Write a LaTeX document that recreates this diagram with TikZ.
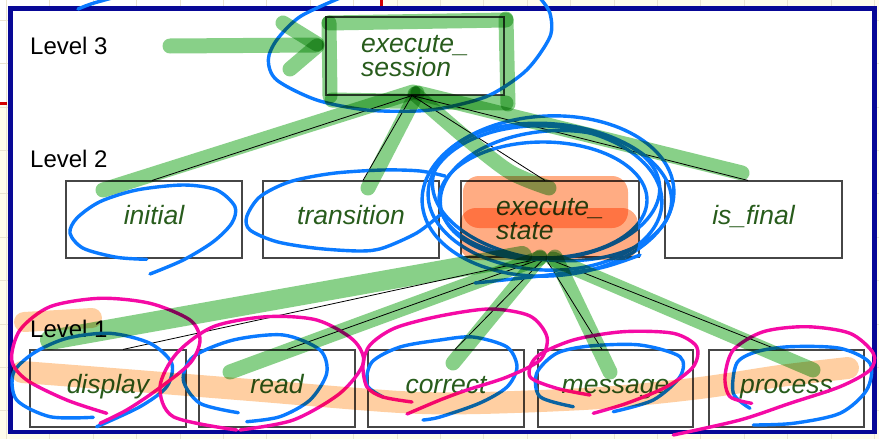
\documentclass[tikz,border=0pt]{standalone}
\usepackage{fontspec}
\setmainfont{Liberation Sans}
\usetikzlibrary{calc}

\definecolor{frameblue}{RGB}{8,8,150}
\definecolor{txtgreen}{RGB}{40,92,28}
\definecolor{boxgray}{RGB}{70,70,70}
\definecolor{bluepen}{RGB}{10,122,255}
\definecolor{pinkpen}{RGB}{245,10,165}
\definecolor{hlgreen}{RGB}{40,170,40}
\definecolor{hlorange}{RGB}{255,150,50}
\definecolor{hlred}{RGB}{255,105,30}
\definecolor{cream}{RGB}{255,252,236}
\definecolor{gridline}{RGB}{234,228,208}
\definecolor{tickred}{RGB}{210,0,0}

\tikzset{
  box/.style={draw=boxgray, line width=1.1pt, inner sep=0pt, text=txtgreen,
    font=\fontsize{26.5}{24}\selectfont\itshape},
  twobox/.style={box, align=left},
  onebox/.style={box, minimum height=77pt, text height=19pt, text depth=9pt},
  lvl/.style={anchor=base west, inner sep=0pt, text=black,
    font=\fontsize{24}{28}\selectfont},
  conn/.style={draw=black, line width=0.8pt},
  pen/.style={draw=bluepen, line width=3.4pt, line cap=round, line join=round},
  pinkline/.style={draw=pinkpen, line width=3.4pt, line cap=round, line join=round},
  hlg/.style={draw=hlgreen, line width=15pt, line cap=round, line join=round, draw opacity=0.55},
  hlo/.style={draw=hlorange, line width=22pt, line cap=round, line join=round, draw opacity=0.45},
}

\begin{document}
\begin{tikzpicture}[x=1pt, y=-1pt]
\useasboundingbox (0,0) rectangle (879,439);
\clip (0,0) rectangle (879,439);

% page background with its grid
\fill[cream] (0,0) rectangle (879,439);
\fill[white] (0,0) rectangle (380,103);
\foreach \gx in {6.3,49.7,...,879} \draw[gridline, line width=0.6pt] (\gx,0) -- (\gx,439);
\foreach \gy in {20,63.4,...,439} \draw[gridline, line width=0.6pt] (0,\gy) -- (879,\gy);
\draw[tickred, line width=3pt] (0,103) -- (7,103);
\draw[tickred, line width=3pt] (381,0) -- (381,7);

% slide frame
\fill[white] (10.5,8.5) rectangle (874.5,432);
\draw[frameblue, line width=4.5pt] (10.5,8.5) rectangle (874.5,432);

% level labels
\node[lvl] (l3) at (30,54) {Level 3};
\node[lvl] (l2) at (30,167) {Level 2};
\node[lvl] (l1) at (30,337) {Level 1};

% level 3
\node[twobox, minimum width=178pt, minimum height=78pt] (sess) at (415,56) {execute\_\\session};

% level 2
\node[onebox, minimum width=176pt] (init) at (154,219.5) {initial};
\node[onebox, minimum width=176pt] (trans) at (351,219.5) {transition};
\node[twobox, minimum width=178pt, minimum height=76pt] (state) at (550,219) {execute\_\\state};
\node[onebox, minimum width=177pt] (final) at (753.5,219.5) {is\_final};

% level 1
\node[onebox, minimum width=156pt] (disp) at (108,388.5) {display};
\node[onebox, minimum width=156pt] (read) at (277,388.5) {read};
\node[onebox, minimum width=156pt] (corr) at (446,388.5) {correct};
\node[onebox, minimum width=155pt] (msg) at (615.5,388.5) {message};
\node[onebox, minimum width=155pt] (proc) at (786.5,388.5) {process};

% call tree
\coordinate (sfork) at ($(sess.south)+(-3,0)$);
\draw[conn] (sfork) -- ($(init.north)+(-2,0)$);
\draw[conn] (sfork) -- ($(trans.north)+(12,0)$);
\draw[conn] (sfork) -- ($(state.north)+(-5,0)$);
\draw[conn] (sfork) -- ($(final.north)+(-5.5,0)$);
\coordinate (tfork) at ($(state.south)+(-5,0)$);
\draw[conn] (tfork) -- ($(disp.north)+(15,0)$);
\draw[conn] (tfork) -- ($(read.north)+(10,0)$);
\draw[conn] (tfork) -- ($(corr.north)+(9,0)$);
\draw[conn] (tfork) -- ($(msg.north)+(-13.5,0)$);
\draw[conn] (tfork) -- ($(proc.north)+(-9.5,0)$);

% blue pen loops
\draw[pen] (78,9) .. controls (90,4) .. (112,-2);
\draw[pen] plot[smooth] coordinates {(340,-2) (300,16.7) (276.7,40) (268.3,60) (276.7,80) (316.7,100) (366.7,110) (417,111) (450,106.7) (490,95) (526.7,70) (550,36.7) (550,13.3) (540,-2)};
\draw[pen] plot[smooth] coordinates {(146.7,259.3) (116.7,257.3) (83.3,248.3) (70,233.3) (76.7,218.3) (100,201.7) (136.7,190) (183.3,185) (216.7,190) (235,206.7) (231.7,223.3) (213.3,241.7) (183.3,260) (150,274)};
\draw[pen] plot[smooth] coordinates {(445,176) (420,171) (383,170) (333,173.3) (290,181.7) (260,196.7) (246.7,216.7) (250,230) (276.7,241.7) (316.7,248.3) (360,251) (383,248) (416.7,233) (440,215)};
\draw[pen] (548,196) ellipse [x radius=126, y radius=80, rotate=3];
\draw[pen] (545,198) ellipse [x radius=117, y radius=72, rotate=-3];
\draw[pen] (550,195) ellipse [x radius=110, y radius=64, rotate=5];
\draw[pen] (543,200) ellipse [x radius=104, y radius=58];
\draw[pen] (552,192) ellipse [x radius=120, y radius=68, rotate=-6];
\draw[pen] plot[smooth] coordinates {(475,283) (540,276) (600,268) (640,255)};
\draw[pen] plot[smooth] coordinates {(93.3,417.3) (50,416.7) (16.7,400) (13.3,373.3) (33.3,353.3) (66.7,338.3) (110,333.3) (150,343.3) (171.7,363.3) (166.7,386.7) (140,406.7) (96.7,426.7)};
\draw[pen] plot[smooth] coordinates {(238.3,412.7) (200,403.3) (183.3,380) (193.3,356.7) (233.3,340) (283.3,335) (320,350) (326.7,373.3) (310,400) (280,416.7) (246.7,421.7)};
\draw[pen] plot[smooth] coordinates {(383,397) (367,385) (372,362) (400,347) (440,340) (473,337) (507,347) (517,367) (507,387) (480,403) (440,417) (423,420)};
\draw[pen] plot[smooth] coordinates {(573.3,406.7) (540,396.7) (536.7,373.3) (556.7,353.3) (590,346) (640,345) (680,356.7) (680,376.7) (653.3,400) (613.3,411.7)};
\draw[pen] plot[smooth] coordinates {(750,408.3) (733.3,393.3) (736.7,363.3) (756.7,351.7) (790,346.7) (840,348.3) (870,363.3) (866.7,390) (840,413.3) (793.3,423.3) (753.3,425)};

% pink pen loops
\draw[pinkline] plot[smooth] coordinates {(106.7,413.3) (66.7,400) (26.7,380) (11.7,360) (20,330) (50,306.7) (100,298.3) (150,303.3) (190,320) (200,340) (190,363.3) (156.7,390) (126.7,410) (100,423.3)};
\draw[pinkline] plot[smooth] coordinates {(236.7,430) (173.3,416.7) (160,386.7) (176.7,353.3) (213.3,326.7) (266.7,316.7) (316.7,320) (353.3,340) (363.3,363.3) (340,393.3) (293.3,420) (240,430)};
\draw[pinkline] plot[smooth] coordinates {(412,402) (383,397) (367,387) (363,365) (370,345) (395,328) (440,316) (490,309) (530,316) (547,337) (540,360) (507,377) (467,390) (440,400) (407,414)};
\draw[pinkline] plot[smooth] coordinates {(590,395) (556.7,388.3) (530,376.7) (536.7,356.7) (573.3,340) (623.3,331.7) (673.3,333.3) (696.7,346.7) (693.3,366.7) (666.7,386.7) (626.7,403.3) (593.3,413.3)};
\draw[pinkline] plot[smooth] coordinates {(751.7,403.3) (730,396.7) (725,376.7) (733.3,350) (763.3,331.7) (806.7,326.7) (850,333.3) (873.3,353.3) (870,370) (840,386.7) (790,403.3) (740,420) (673.3,435)};

% highlighter marks
\begin{scope}[blend mode=multiply]
  % orange
  \fill[hlred, opacity=0.55, rounded corners=16pt] (463,176) rectangle (628,228);
  \fill[hlred, opacity=0.55, rounded corners=16pt] (460,208) rectangle (638,260);
  \draw[hlo, line width=20pt] (24,322) -- (92,318);
  \draw[hlo] plot[smooth] coordinates {(22,372) (100,378) (250,390) (400,402) (480,403) (600,398) (700,388) (780,376) (848,368)};
  % green
  \draw[hlg] (170,46) -- (316,45);
  \draw[hlg] (283,23) -- (317,44);
  \draw[hlg] (317,46) -- (290,69);
  \draw[hlg] (330,96) -- (329,23);
  \draw[hlg] (329,23) -- (506,20);
  \draw[hlg] (506,19) -- (508,104);
  \draw[hlg] (332,100) -- (506,103);
  \draw[hlg] (413,92) -- (103,190);
  \draw[hlg] (417,93) -- (368,188);
  \draw[hlg] plot[smooth] coordinates {(415,94) (466,138) (510,172) (549,188)};
  \draw[hlg] (418,93) -- (742,173);
  \draw[hlg, line width=20pt] (522,256) -- (50,340);
  \draw[hlg] (540,258) -- (230,372);
  \draw[hlg] (540,257) -- (453,363);
  \draw[hlg] (555,257) -- (610,372);
  \draw[hlg] (553,259) -- (813,370);
\end{scope}
\end{tikzpicture}
\end{document}
